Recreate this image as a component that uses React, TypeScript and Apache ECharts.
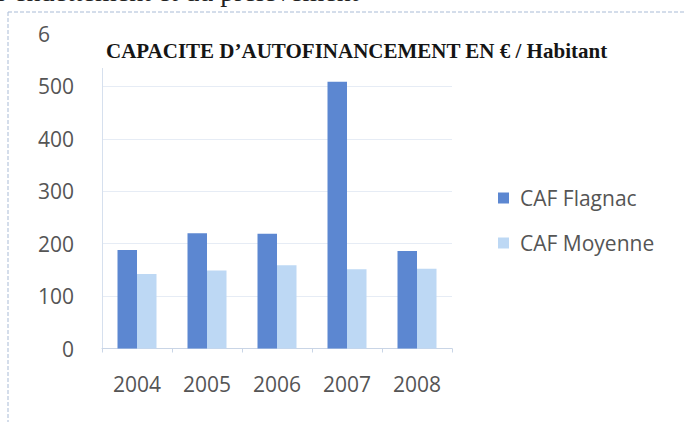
import React, { useEffect, useRef } from "react";
import * as echarts from "echarts";

const categories = ["2004", "2005", "2006", "2007", "2008"];
const cafFlagnac = [188, 220, 219, 509, 186];
const cafMoyenne = [142, 149, 159, 151, 152];
const seriesNames = ["CAF Flagnac", "CAF Moyenne"];
const titleText = "CAPACITE D\u2019AUTOFINANCEMENT EN \u20AC / Habitant";
const topText = "l\u2019endettement et du pr\u00E9l\u00E8vement";

export default function App() {
  const ref = useRef<HTMLDivElement>(null);
  useEffect(() => {
    if (!ref.current) return;
    const chart = echarts.init(ref.current, null, { renderer: "svg" });
    const labelFont = { fontFamily: "Open Sans", fontSize: 21, color: "#555555" };
    chart.setOption({
      animation: false,
      backgroundColor: "#ffffff",
      title: {
        text: titleText,
        left: 50,
        top: 24,
        padding: [16, 6, 6, 56],
        backgroundColor: "#ffffff",
        textStyle: {
          fontFamily: "Liberation Serif",
          fontWeight: "bold",
          fontSize: 21,
          lineHeight: 22,
          color: "#151515",
        },
      },
      legend: {
        orient: "vertical",
        left: 493,
        top: 181,
        itemWidth: 11,
        itemHeight: 11,
        itemGap: 21,
        icon: "rect",
        data: seriesNames,
        textStyle: { ...labelFont, fontSize: 21, lineHeight: 24, padding: [0, 0, 0, 6] },
      },
      grid: { left: 102, right: 234, top: 34, bottom: 73.5, containLabel: false },
      xAxis: {
        type: "category",
        data: categories,
        axisLine: { lineStyle: { color: "#c9d5e6", width: 1 } },
        axisTick: { show: true, length: 4, lineStyle: { color: "#c9d5e6" } },
        axisLabel: { ...labelFont, margin: 25 },
      },
      yAxis: {
        type: "value",
        min: 0,
        max: 600,
        interval: 100,
        axisLine: { show: true, lineStyle: { color: "#d6e0ee" } },
        axisTick: { show: false },
        splitLine: { lineStyle: { color: "#e6ecf5", width: 1 } },
        axisLabel: { ...labelFont, margin: 28 },
      },
      series: [
        {
          name: seriesNames[0],
          type: "bar",
          data: cafFlagnac,
          barWidth: 19.5,
          barGap: "0%",
          itemStyle: { color: "#5c87d1" },
        },
        {
          name: seriesNames[1],
          type: "bar",
          data: cafMoyenne,
          barWidth: 19.5,
          barGap: "0%",
          itemStyle: { color: "#bdd8f4" },
        },
      ],
      graphic: [
        {
          type: "text",
          x: -3,
          y: 5,
          style: {
            text: topText,
            fontFamily: "Liberation Serif",
            fontSize: 28,
            fill: "#222",
            textVerticalAlign: "bottom",
            verticalAlign: "alphabetic",
          },
        },
        {
          type: "line",
          shape: { x1: 8, y1: 12, x2: 686, y2: 12 },
          style: { stroke: "#a9bbd6", lineWidth: 1, lineDash: [4, 2] },
        },
        {
          type: "line",
          shape: { x1: 8, y1: 12, x2: 8, y2: 422 },
          style: { stroke: "#a9bbd6", lineWidth: 1, lineDash: [4, 2] },
        },
      ],
    });
    return () => chart.dispose();
  }, []);
  return <div ref={ref} style={{ width: 686, height: 422, position: "absolute", left: 0, top: 0 }} />;
}
